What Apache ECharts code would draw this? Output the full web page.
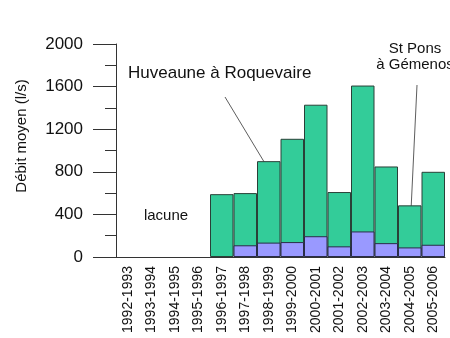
<!DOCTYPE html>
<html>
<head>
<meta charset="utf-8">
<script src="https://cdn.jsdelivr.net/npm/echarts@6/dist/echarts.min.js"></script>
<style>
  html, body { margin: 0; padding: 0; background: #fff; }
  #chart { width: 450px; height: 338px; }
</style>
</head>
<body>
<div id="chart"></div>
<script>
// Hydrological years
const years = [
  '1992-1993', '1993-1994', '1994-1995', '1995-1996', '1996-1997',
  '1997-1998', '1998-1999', '1999-2000', '2000-2001', '2001-2002',
  '2002-2003', '2003-2004', '2004-2005', '2005-2006'
];
// Mean discharge (l/s), Huveaune at Roquevaire (no data 1992-1996)
const huveaune = [null, null, null, null, 590, 600, 900, 1110, 1430, 610, 1610, 850, 485, 800];
// Mean discharge (l/s), St Pons spring at Gémenos
const stPons = [null, null, null, null, null, 110, 135, 140, 195, 100, 240, 130, 90, 115];
// Value axis ticks
const yTicks = [0, 400, 800, 1200, 1600, 2000];

const FONT = '"Liberation Sans", Arial, sans-serif';
const chart = echarts.init(document.getElementById('chart'), null, { renderer: 'canvas' });

chart.setOption({
  animation: false,
  backgroundColor: '#ffffff',
  grid: { left: 116, right: 5, top: 44, bottom: 81 },
  xAxis: {
    type: 'category',
    data: years,
    axisLine: { show: true, lineStyle: { color: '#333', width: 1 } },
    axisTick: { show: false },
    axisLabel: {
      rotate: 90, interval: 0, margin: 9,
      color: '#111', fontFamily: FONT, fontSize: 14
    }
  },
  yAxis: {
    type: 'value',
    min: yTicks[0],
    max: yTicks[yTicks.length - 1],
    interval: yTicks[1] - yTicks[0],
    axisLine: { show: true, lineStyle: { color: '#333', width: 1 } },
    axisTick: { show: true, length: 23, lineStyle: { color: '#333' } },
    minorTick: { show: true, splitNumber: 2, length: 11, lineStyle: { color: '#333' } },
    splitLine: { show: false },
    axisLabel: {
      margin: 33, color: '#111', fontFamily: FONT, fontSize: 17,
      formatter: (v) => String(v)
    }
  },
  series: [
    {
      name: 'Huveaune à Roquevaire',
      type: 'bar',
      data: huveaune,
      barWidth: '100%',
      barGap: '-100%',
      itemStyle: { color: '#33cc99', borderColor: '#2a4038', borderWidth: 1 }
    },
    {
      name: 'St Pons à Gémenos',
      type: 'bar',
      data: stPons,
      barWidth: '100%',
      barGap: '-100%',
      itemStyle: { color: '#9999ff', borderColor: '#2a2d48', borderWidth: 1 }
    }
  ],
  graphic: [
    // value axis title
    { type: 'text', x: 22, y: 136, rotation: Math.PI / 2,
      style: { text: 'Débit moyen (l/s)', fill: '#111', font: '15px ' + FONT, align: 'center', verticalAlign: 'middle' } },
    { type: 'text', left: 128, top: 65,
      style: { text: 'Huveaune à Roquevaire', fill: '#111', font: '17px ' + FONT } },
    { type: 'line', shape: { x1: 225, y1: 97, x2: 272, y2: 175 },
      style: { stroke: '#333', lineWidth: 0.8 } },
    { type: 'text', x: 415, y: 49,
      style: { text: 'St Pons', fill: '#111', font: '15px ' + FONT, align: 'center', verticalAlign: 'middle' } },
    { type: 'text', x: 415, y: 65,
      style: { text: 'à Gémenos', fill: '#111', font: '15px ' + FONT, align: 'center', verticalAlign: 'middle' } },
    { type: 'line', shape: { x1: 417, y1: 85, x2: 409, y2: 252 },
      style: { stroke: '#333', lineWidth: 0.8 } },
    { type: 'text', x: 166, y: 216,
      style: { text: 'lacune', fill: '#111', font: '15px ' + FONT, align: 'center', verticalAlign: 'middle' } }
  ]
});
</script>
</body>
</html>
